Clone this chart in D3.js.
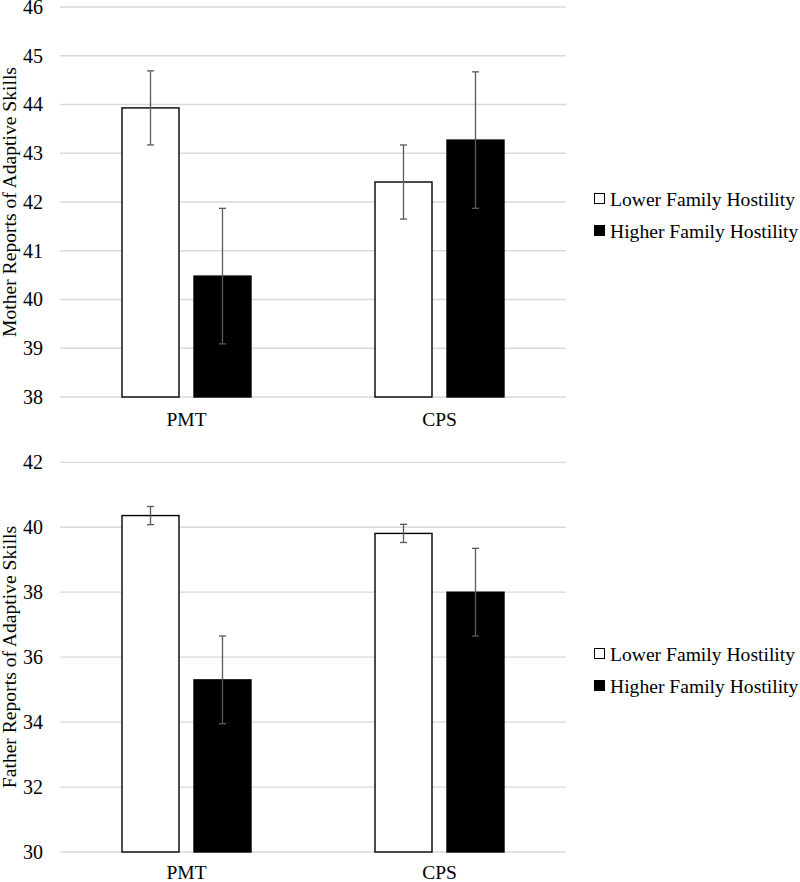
<!DOCTYPE html>
<html>
<head>
<meta charset="utf-8">
<script src="https://cdn.jsdelivr.net/npm/d3@7"></script>
<style>
  html, body { margin: 0; padding: 0; background: #fff; }
  svg { display: block; }
  text { font-family: "Liberation Serif", "Times New Roman", serif; fill: #000; }
</style>
</head>
<body>
<svg id="chart" width="800" height="882"></svg>
<script>
// ---- data ----
const categories = ["PMT", "CPS"];
const seriesNames = ["Lower Family Hostility", "Higher Family Hostility"];
const seriesFills = ["#ffffff", "#000000"];

// Panel 1: mother reports
const motherLower = [43.93, 42.41];
const motherHigher = [40.48, 43.27];
const motherLowerErr = [0.76, 0.76];
const motherHigherErr = [1.39, 1.40];
const motherTicks = [38, 39, 40, 41, 42, 43, 44, 45, 46];
const motherTitle = "Mother Reports of Adaptive Skills";

// Panel 2: father reports
const fatherLower = [40.36, 39.81];
const fatherHigher = [35.30, 38.00];
const fatherLowerErr = [0.28, 0.28];
const fatherHigherErr = [1.35, 1.35];
const fatherTicks = [30, 32, 34, 36, 38, 40, 42];
const fatherTitle = "Father Reports of Adaptive Skills";

const svg = d3.select("#chart");
const SERIF = '"Liberation Serif", "Times New Roman", serif';

function drawPanel(cfg) {
  const g = svg.append("g");
  const x0 = d3.scaleBand().domain(categories).range([cfg.left, cfg.right]).padding(0);
  const groupW = 129;
  const x1 = d3.scaleBand().domain(seriesNames).range([0, groupW]).paddingInner(15 / 72);
  const y = d3.scaleLinear().domain([cfg.ticks[0], cfg.ticks[cfg.ticks.length - 1]]).range([cfg.bottom, cfg.top]);

  // gridlines
  g.append("g").selectAll("line").data(cfg.ticks).join("line")
    .attr("x1", cfg.left).attr("x2", cfg.right)
    .attr("y1", d => y(d)).attr("y2", d => y(d))
    .attr("stroke", "#d9d9d9").attr("stroke-width", 1.3);

  // y axis labels
  const yAxis = d3.axisLeft(y).tickValues(cfg.ticks).tickSize(0).tickPadding(0);
  const ya = g.append("g").attr("transform", `translate(${cfg.left - 17},0)`).call(yAxis);
  ya.attr("font-family", SERIF);
  ya.select(".domain").remove();
  ya.selectAll("text").style("font-family", SERIF).style("font-size", "20px").attr("fill", "#000");

  // x axis labels
  const xAxis = d3.axisBottom(x0).tickSize(0).tickPadding(0);
  const xa = g.append("g").attr("transform", `translate(0,${cfg.bottom + cfg.xLabelGap})`).call(xAxis);
  xa.attr("font-family", SERIF);
  xa.select(".domain").remove();
  xa.selectAll("text").style("font-family", SERIF).style("font-size", "19.5px").attr("fill", "#000");

  // bars
  const rows = [];
  categories.forEach((c, i) => {
    rows.push({ cat: c, s: seriesNames[0], v: cfg.lower[i], e: cfg.lowerErr[i], fill: seriesFills[0] });
    rows.push({ cat: c, s: seriesNames[1], v: cfg.higher[i], e: cfg.higherErr[i], fill: seriesFills[1] });
  });
  const off = (x0.bandwidth() - groupW) / 2;
  const base = y.domain()[0];
  g.append("g").selectAll("rect").data(rows).join("rect")
    .attr("x", d => x0(d.cat) + off + x1(d.s))
    .attr("width", x1.bandwidth())
    .attr("y", d => y(d.v))
    .attr("height", d => y(base) - y(d.v))
    .attr("fill", d => d.fill)
    .attr("stroke", "#000").attr("stroke-width", 1.4);

  // error bars
  const eb = g.append("g").attr("stroke", "#5a5a5a").attr("stroke-width", 1.3);
  rows.forEach(d => {
    const cx = x0(d.cat) + off + x1(d.s) + x1.bandwidth() / 2;
    eb.append("line").attr("x1", cx).attr("x2", cx).attr("y1", y(d.v + d.e)).attr("y2", y(d.v - d.e));
    eb.append("line").attr("x1", cx - 3.5).attr("x2", cx + 3.5).attr("y1", y(d.v + d.e)).attr("y2", y(d.v + d.e));
    eb.append("line").attr("x1", cx - 3.5).attr("x2", cx + 3.5).attr("y1", y(d.v - d.e)).attr("y2", y(d.v - d.e));
  });

  // y title
  g.append("text")
    .attr("transform", `translate(16,${cfg.titleY}) rotate(-90)`)
    .attr("text-anchor", "middle")
    .style("font-family", SERIF)
    .style("font-size", "19.6px")
    .text(cfg.title);

  // legend
  const lg = g.append("g").attr("transform", `translate(594,${cfg.legendY})`);
  seriesNames.forEach((s, i) => {
    const row = lg.append("g").attr("transform", `translate(0,${i * 32})`);
    row.append("rect").attr("x", 0.5).attr("y", 0.5).attr("width", 10).attr("height", 10)
      .attr("fill", seriesFills[i]).attr("stroke", "#000").attr("stroke-width", 1);
    row.append("text").attr("x", 16).attr("y", 12.5)
      .style("font-family", SERIF).style("font-size", "19.6px").text(s);
  });
}

drawPanel({
  left: 60, right: 566, top: 7, bottom: 397, xLabelGap: 15,
  ticks: motherTicks, lower: motherLower, higher: motherHigher,
  lowerErr: motherLowerErr, higherErr: motherHigherErr,
  title: motherTitle, titleY: 202, legendY: 193
});

drawPanel({
  left: 60, right: 566, top: 462.3, bottom: 852, xLabelGap: 13,
  ticks: fatherTicks, lower: fatherLower, higher: fatherHigher,
  lowerErr: fatherLowerErr, higherErr: fatherHigherErr,
  title: fatherTitle, titleY: 657, legendY: 648
});
</script>
</body>
</html>
